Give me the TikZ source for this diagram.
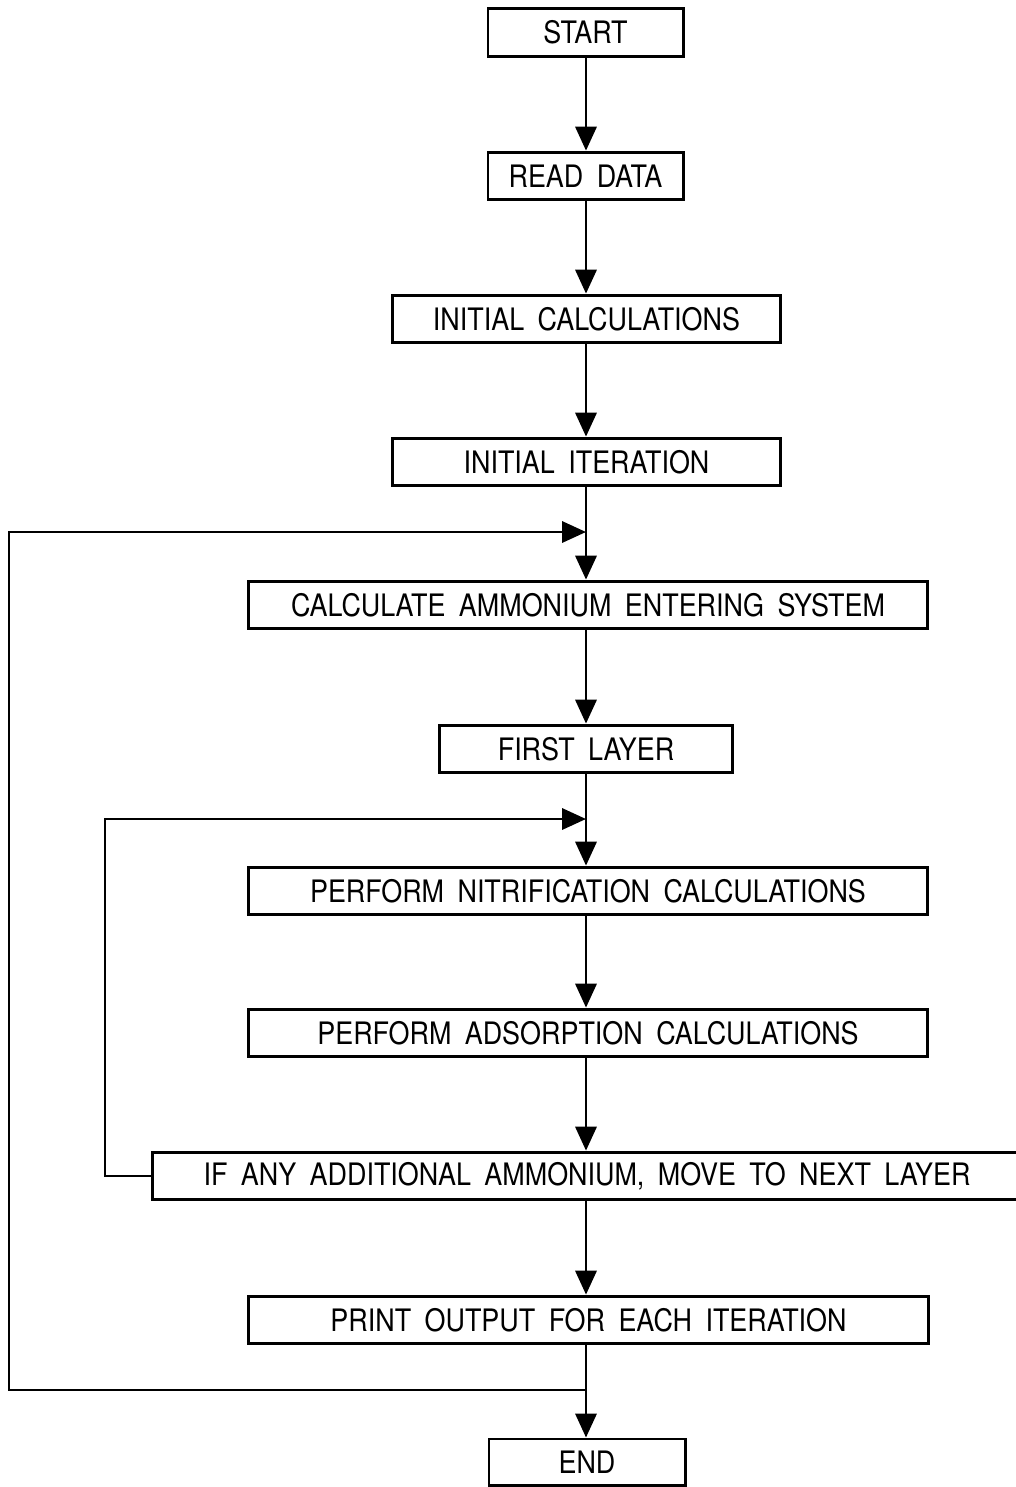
\documentclass[tikz,border=0pt]{standalone}
\usepackage{fontspec}
\setmainfont{TeX Gyre Heros}[FakeStretch=0.87,WordSpace=1.8]
\usetikzlibrary{arrows.meta}
\begin{document}
\begin{tikzpicture}[x=0.025cm,y=-0.025cm,
  box/.style={draw,line width=2.1pt,minimum height=34pt,inner sep=0pt,font=\fontsize{22}{26}\selectfont},
  flow/.style={line width=2.1pt,-{Triangle[length=17pt,width=15pt]}},
  wire/.style={line width=2.1pt}]
\useasboundingbox (0,0) rectangle (1016,1487);
\clip (0,0) rectangle (1016,1487);
\node[box,minimum width=195*0.7113pt] (start) at (585.5,32.5) {START};
\node[box,minimum width=195*0.7113pt] (read) at (585.5,176) {READ DATA};
\node[box,minimum width=387*0.7113pt] (icalc) at (586.5,319) {INITIAL CALCULATIONS};
\node[box,minimum width=387*0.7113pt] (iiter) at (586.5,462) {INITIAL ITERATION};
\node[box,minimum width=678*0.7113pt] (calc) at (588,605) {CALCULATE AMMONIUM ENTERING SYSTEM};
\node[box,minimum width=292*0.7113pt] (first) at (586,749) {FIRST LAYER};
\node[box,minimum width=678*0.7113pt] (nitr) at (588,891) {PERFORM NITRIFICATION CALCULATIONS};
\node[box,minimum width=678*0.7113pt] (ads) at (588,1033) {PERFORM ADSORPTION CALCULATIONS};
\node[box,minimum width=868*0.7113pt] (if) at (587,1176) {IF ANY ADDITIONAL AMMONIUM, MOVE TO NEXT LAYER};
\node[box,minimum width=679*0.7113pt] (print) at (588.5,1320) {PRINT OUTPUT FOR EACH ITERATION};
\node[box,minimum width=196*0.7113pt,minimum height=46*0.7113pt] (end) at (587,1462) {END};
\coordinate (m1) at (586,532);
\coordinate (m2) at (586,819);
\coordinate (j1) at (586,1390);
\draw[flow] (start.south -| 586,0) -- (read.north -| 586,0);
\draw[flow] (read.south -| 586,0) -- (icalc.north -| 586,0);
\draw[flow] (icalc.south -| 586,0) -- (iiter.north -| 586,0);
\draw[flow] (iiter.south -| 586,0) -- (calc.north -| 586,0);
\draw[flow] (calc.south -| 586,0) -- (first.north -| 586,0);
\draw[flow] (first.south -| 586,0) -- (nitr.north -| 586,0);
\draw[flow] (nitr.south -| 586,0) -- (ads.north -| 586,0);
\draw[flow] (ads.south -| 586,0) -- (if.north -| 586,0);
\draw[flow] (if.south -| 586,0) -- (print.north -| 586,0);
\draw[flow] (print.south -| 586,0) -- (end.north -| 586,0);
\draw[wire] (j1) -- (9,1390) -- (9,532) -- (560,532);
\draw[flow] (555,532) -- (m1);
\draw[wire] (if.west) -- (105,1176) -- (105,819) -- (560,819);
\draw[flow] (555,819) -- (m2);
\end{tikzpicture}
\end{document}
